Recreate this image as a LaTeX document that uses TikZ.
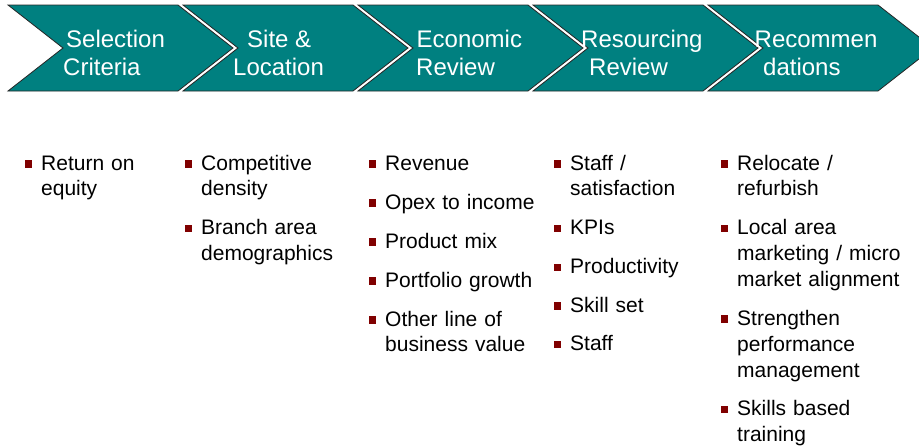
\documentclass[tikz,border=0pt]{standalone}
\usepackage{fontspec}
\setmainfont{Liberation Sans}
\definecolor{chevteal}{HTML}{008080}
\definecolor{bulred}{HTML}{800000}
\newcommand{\bul}{\noindent\llap{\textcolor{bulred}{\rule[2.5pt]{7.5pt}{7.5pt}}\hspace{9pt}}}
\begin{document}
\begin{tikzpicture}[x=1pt,y=-1pt,
  chev/.style={fill=chevteal,draw=black!85,line width=0.8pt,line join=miter},
  hd/.style={text=white,font=\fontsize{24}{28.5}\selectfont,inner sep=0pt,anchor=base west},
  item/.style={anchor=base west,inner sep=0pt,text width=190pt,align=left,
    font=\fontsize{21}{25.8}\selectfont}]
\useasboundingbox (0,0) rectangle (919,445);
\clip (0,0) rectangle (919,445);
\fill[white] (0,0) rectangle (919,445);
% chevrons
\foreach \x in {8,183,358,533,708}
  \draw[chev] (\x,5) -- ++(170,0) -- ++(55,43) -- ++(-55,43) -- ++(-170,0) -- ++(55,-43) -- cycle;
% header labels
\node[hd] (h1a) at (66,47) {Selection};
\node[hd] (h1b) at (63,75.5) {Criteria};
\node[hd] (h2a) at (247,47) {Site \&};
\node[hd] (h2b) at (233,75.5) {Location};
\node[hd] (h3a) at (416.5,47) {Economic};
\node[hd] (h3b) at (416,75.5) {Review};
\node[hd] (h4a) at (581,47) {Resourcing};
\node[hd] (h4b) at (589,75.5) {Review};
\node[hd] (h5a) at (754.5,47) {Recommen};
\node[hd] (h5b) at (763,75.5) {dations};
% column 1
\node[item] (c1a) at (41,170) {\bul Return on\\equity};
% column 2
\node[item] (c2a) at (201,170) {\bul Competitive\\density};
\node[item] (c2b) at (201,234.8) {\bul Branch area\\demographics};
% column 3
\node[item] (c3a) at (385,170) {\bul Revenue};
\node[item] (c3b) at (385,209) {\bul Opex to income};
\node[item] (c3c) at (385,248) {\bul Product mix};
\node[item] (c3d) at (385,287) {\bul Portfolio growth};
\node[item] (c3e) at (385,326) {\bul Other line of\\business value};
% column 4
\node[item] (c4a) at (570,170) {\bul Staff /\\satisfaction};
\node[item] (c4b) at (570,234.8) {\bul KPIs};
\node[item] (c4c) at (570,273.8) {\bul Productivity};
\node[item] (c4d) at (570,312) {\bul Skill set};
\node[item] (c4e) at (570,350.5) {\bul Staff};
% column 5
\node[item] (c5a) at (737,170) {\bul Relocate /\\refurbish};
\node[item] (c5b) at (737,234.8) {\bul Local area\\marketing / micro\\market alignment};
\node[item] (c5c) at (737,325.4) {\bul Strengthen\\performance\\management};
\node[item] (c5d) at (737,415.5) {\bul Skills based\\training};
\end{tikzpicture}
\end{document}
